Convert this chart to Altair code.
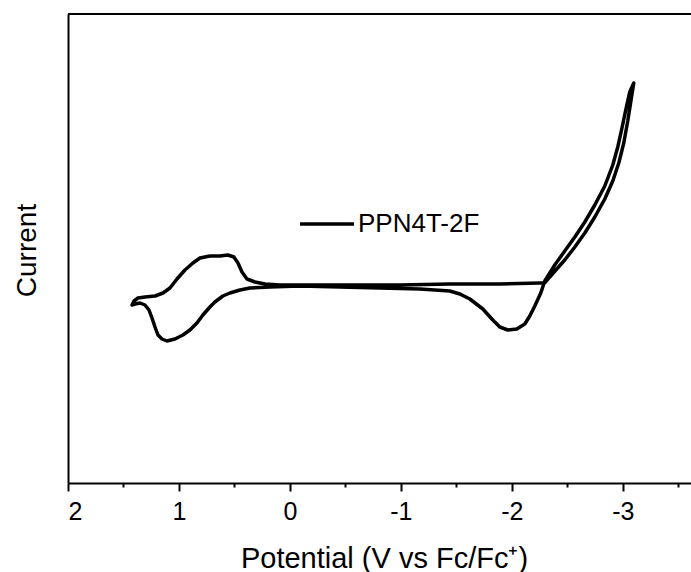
import altair as alt
import pandas as pd

series_name = "PPN4T-2F"

# Cyclic voltammogram, in scan order (closed loop)
potential = [
    -0.090, 0.180, 0.360, 0.450, 0.541, 0.604, 0.676, 0.721, 0.784, 0.838,
    0.901, 0.964, 1.036, 1.108, 1.153, 1.189, 1.216, 1.243, 1.270, 1.306,
    1.351, 1.396, 1.423, 1.405, 1.369, 1.306, 1.216, 1.144, 1.081, 1.018,
    0.946, 0.874, 0.811, 0.721, 0.631, 0.559, 0.505, 0.468, 0.432, 0.387,
    0.315, 0.225, 0.090, -0.090,
    -0.541, -0.991, -1.441, -1.892, -2.252,
    -2.297, -2.342, -2.405, -2.477, -2.568, -2.658, -2.748, -2.838, -2.910,
    -2.964, -3.009, -3.045, -3.072, -3.099,
    -3.063, -3.027, -2.991, -2.955, -2.910, -2.838, -2.748, -2.658, -2.568,
    -2.477, -2.387, -2.297,
    -2.261, -2.207, -2.162, -2.117, -2.045, -1.964, -1.892, -1.820, -1.739, -1.622,
    -1.532, -1.441, -1.171, -0.811, -0.450, -0.090,
]
current = [
    -0.1, -0.2, -0.3, -0.5, -0.8, -1.1, -1.7, -2.2, -3.0, -3.8,
    -4.5, -5.0, -5.4, -5.6, -5.4, -5.0, -4.2, -3.3, -2.5, -2.0,
    -1.8, -1.9, -2.0, -1.6, -1.3, -1.2, -1.1, -0.8, -0.3, 0.6,
    1.5, 2.2, 2.7, 2.9, 2.9, 3.0, 2.8, 2.2, 1.3, 0.6,
    0.3, 0.1, 0.0, 0.0,
    0.0, 0.0, 0.1, 0.1, 0.2,
    0.2, 0.8, 1.6, 2.5, 3.8, 5.2, 6.8, 8.6, 10.4,
    12.2, 14.2, 16.4, 18.3, 20.2,
    19.3, 17.5, 15.6, 13.8, 12.0, 9.9, 8.0, 6.3, 4.8,
    3.4, 2.0, 0.4,
    -0.8, -2.1, -3.1, -3.9, -4.4, -4.5, -4.2, -3.4, -2.4, -1.4,
    -0.9, -0.6, -0.4, -0.3, -0.2, -0.1,
]

x_major = [2, 1, 0, -1, -2, -3]
x_minor = [1.5, 0.5, -0.5, -1.5, -2.5, -3.5]
x_domain = [2, -3.615]
y_domain = [-19.8, 27.1]

df = pd.DataFrame({
    "potential": potential,
    "current": current,
    "step": list(range(len(potential))),
    "series": [series_name] * len(potential),
})

W, H = 623, 469
FONT = "Liberation Sans"

x_axis = alt.Axis(
    values=sorted(x_major + x_minor, reverse=True),
    labelExpr="datum.value % 1 === 0 ? toString(datum.value) : ''",
    tickSize={"condition": {"test": "datum.value % 1 === 0", "value": 8}, "value": 4},
    tickWidth=2,
    tickColor="black",
    domainColor="black",
    domainWidth=2,
    grid=False,
    labelFont=FONT,
    labelFontSize=25,
    labelColor="black",
    labelBaseline="alphabetic",
    labelPadding=28,
    title="Potential (V vs Fc/Fc⁺)",
    titleFont=FONT,
    titleFontSize=29,
    titleFontWeight="normal",
    titleColor="black",
    titleBaseline="alphabetic",
    titleY=84,
    titleX=316,
)

y_axis = alt.Axis(
    labels=False,
    ticks=False,
    grid=False,
    domainColor="black",
    domainWidth=2,
    title="Current",
    titleFont=FONT,
    titleFontSize=28,
    titleFontWeight="normal",
    titleColor="black",
    titleAngle=270,
    titleBaseline="alphabetic",
    titleAlign="center",
    titleX=-33,
    titleY=236,
)

line = alt.Chart(df).mark_line(strokeWidth=3.5, strokeJoin="round", strokeCap="round").encode(
    x=alt.X("potential:Q", scale=alt.Scale(domain=x_domain, nice=False, zero=False), axis=x_axis),
    y=alt.Y("current:Q", scale=alt.Scale(domain=y_domain, nice=False, zero=False), axis=y_axis),
    order="step:Q",
    color=alt.Color(
        "series:N",
        scale=alt.Scale(range=["black"]),
        legend=alt.Legend(
            title=None,
            orient="none",
            legendX=230,
            legendY=181,
            padding=0,
            symbolType="stroke",
            symbolSize=2916,
            symbolStrokeWidth=3.5,
            labelFont=FONT,
            labelFontSize=26,
            labelColor="black",
            labelOffset=2,
        ),
    ),
)

top_border = alt.Chart(df).mark_rule(color="black", strokeWidth=2).encode(
    x=alt.value(0), x2=alt.value(W), y=alt.value(0)
)

chart = alt.layer(line, top_border).properties(
    width=W,
    height=H,
    autosize=alt.AutoSizeParams(type="none"),
    padding={"left": 68, "top": 14, "right": 0, "bottom": 89},
).configure_view(stroke=None).configure(background="white")

chart.save("out.html", embed_options={"renderer": "svg", "actions": False})
